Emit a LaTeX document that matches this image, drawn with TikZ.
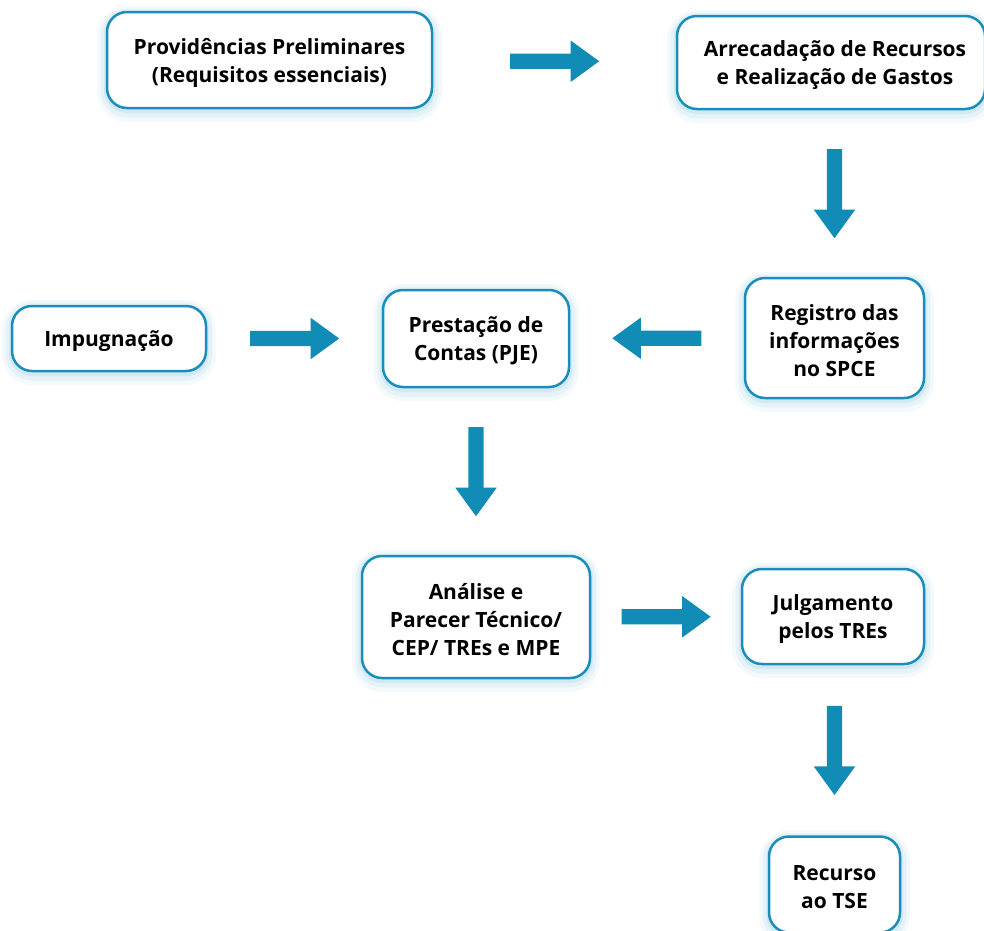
\documentclass[tikz,border=0pt]{standalone}
\usepackage{fontspec}
\setmainfont{Open Sans}
\usetikzlibrary{shapes.arrows,shadows,calc}
\definecolor{arrowblue}{HTML}{108CB6}
\definecolor{boxblue}{HTML}{1A8DBB}
\definecolor{glowblue}{HTML}{A9D8EC}
\tikzset{
  boxtext/.style={font=\fontsize{21}{28}\selectfont\bfseries, align=center, inner sep=0pt, yshift=-2.5pt},
  box/.style={draw=boxblue, line width=2.5pt, rounded corners=20pt, fill=white,
    inner sep=0pt,
    general shadow={draw=glowblue, line width=20pt, opacity=0.12, shadow yshift=-4pt},
    general shadow={draw=glowblue, line width=13pt, opacity=0.2, shadow yshift=-3pt},
    general shadow={draw=glowblue, line width=6pt, opacity=0.35, shadow yshift=-2pt}},
  blockarrow/.style={single arrow, fill=arrowblue, draw=none, anchor=tail,
    minimum height=89pt, minimum width=41pt, inner xsep=0pt, inner ysep=7.5pt,
    single arrow head extend=13pt, single arrow tip angle=72}
}
\begin{document}
\begin{tikzpicture}[x=1pt,y=1pt]
\useasboundingbox (0,0) rectangle (984,-930);
\fill[white] (0,0) rectangle (984,-930);
\node[box, minimum width=325pt, minimum height=96pt,
  label={[boxtext]center:{Providências Preliminares\\(Requisitos essenciais)}}] (prov) at (269.5,-60) {};
\node[box, minimum width=308pt, minimum height=93pt,
  label={[boxtext, xshift=4pt]center:{Arrecadação de Recursos\\e Realização de Gastos}}] (arrec) at (831,-62.5) {};
\node[box, minimum width=179pt, minimum height=120pt,
  label={[boxtext]center:{Registro das\\informações\\no SPCE}}] (reg) at (834.5,-338) {};
\node[box, minimum width=186pt, minimum height=97pt,
  label={[boxtext]center:{Prestação de\\Contas (PJE)}}] (prest) at (476,-338.5) {};
\node[box, minimum width=194pt, minimum height=65pt,
  label={[boxtext]center:{Impugnação}}] (imp) at (109,-338.5) {};
\node[box, minimum width=228pt, minimum height=122pt,
  label={[boxtext]center:{Análise e\\Parecer Técnico/\\CEP/ TREs e MPE}}] (anal) at (476,-617) {};
\node[box, minimum width=182pt, minimum height=95pt,
  label={[boxtext]center:{Julgamento\\pelos TREs}}] (julg) at (833,-616.5) {};
\node[box, minimum width=131pt, minimum height=96pt,
  label={[boxtext]center:{Recurso\\ao TSE}}] (rec) at (834.5,-884.5) {};

\node[blockarrow] (a1) at ($(prov.east)!0.5!(arrec.west)+(-44.5,0)$) {};
\node[blockarrow, rotate=-90] (a2) at ($(reg.north |- arrec.south)!0.5!(reg.north)+(0,44.5)$) {};
\node[blockarrow, rotate=180] (a3) at ($(prest.east)!0.5!(reg.west)+(44.5,0)$) {};
\node[blockarrow] (a4) at ($(imp.east)!0.5!(prest.west)+(-44.5,0)$) {};
\node[blockarrow, rotate=-90] (a5) at ($(prest.south)!0.5!(anal.north)+(0,44.5)$) {};
\node[blockarrow] (a6) at ($(anal.east)!0.5!(julg.west)+(-44.5,0)$) {};
\node[blockarrow, rotate=-90] (a7) at ($(rec.north |- julg.south)!0.5!(rec.north)+(0,44.5)$) {};
\end{tikzpicture}
\end{document}
